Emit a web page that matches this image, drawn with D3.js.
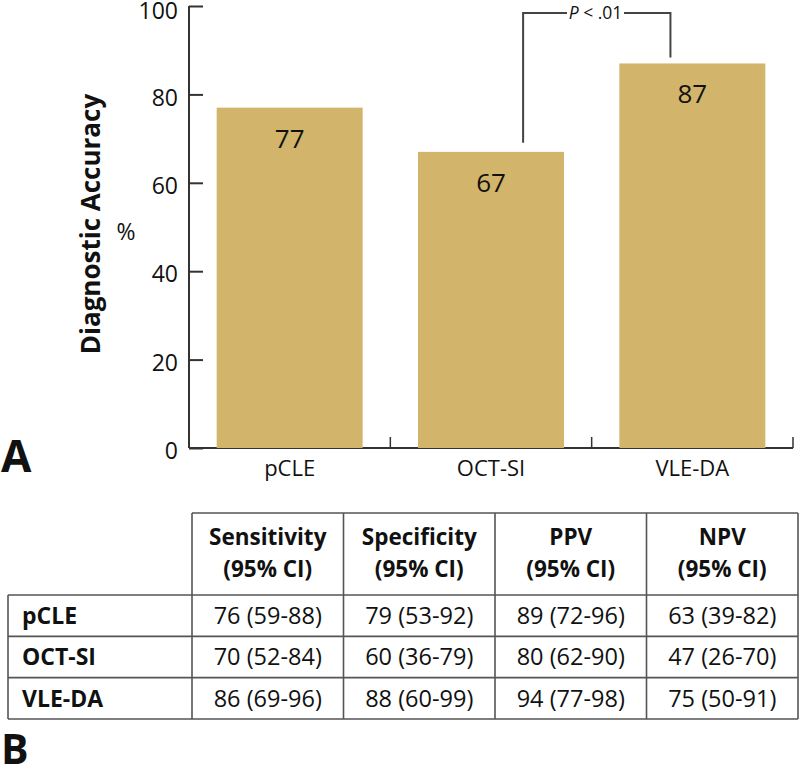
<!DOCTYPE html>
<html>
<head>
<meta charset="utf-8">
<script src="https://cdn.jsdelivr.net/npm/d3@7/dist/d3.min.js"></script>
<style>
  html, body { margin: 0; padding: 0; background: #fff; }
  svg { display: block; font-family: "Open Sans", "Noto Sans", sans-serif; }
</style>
</head>
<body>
<svg id="chart" width="800" height="770"></svg>
<script>
// ---- Data ----
const categories = ["pCLE", "OCT-SI", "VLE-DA"];
const accuracy = [77, 67, 87];
const yTicks = [0, 20, 40, 60, 80, 100];
const pLabel = ["P", " < .01"];
const comparePair = ["OCT-SI", "VLE-DA"];

const metricNames = ["Sensitivity", "Specificity", "PPV", "NPV"];
const metricSub = "(95% CI)";
const sensitivity = ["76 (59-88)", "70 (52-84)", "86 (69-96)"];
const specificity = ["79 (53-92)", "60 (36-79)", "88 (60-99)"];
const ppv = ["89 (72-96)", "80 (62-90)", "94 (77-98)"];
const npv = ["63 (39-82)", "47 (26-70)", "75 (50-91)"];
const tableValues = [sensitivity, specificity, ppv, npv];

// ---- Setup ----
const svg = d3.select("#chart");
const axisColor = "#333";
const barColor = "#d3b46b";
const textColor = "#111";

const x = d3.scaleBand().domain(categories).range([189, 793])
  .paddingInner(0.275).paddingOuter(0.1375);
const y = d3.scaleLinear().domain([0, 100]).range([448, 6]);

const gAxisLayer = svg.append("g");
const gBarLayer = svg.append("g");
const gLabelLayer = svg.append("g");

// x axis baseline & ticks (ticks at band boundaries, pointing up)
const boundaries = categories.map(c => x(c) + x.bandwidth() + x.step() * x.paddingInner() / 2);
gAxisLayer.append("line")
  .attr("x1", 189).attr("x2", boundaries[boundaries.length - 1])
  .attr("y1", y(0)).attr("y2", y(0))
  .attr("stroke", axisColor).attr("stroke-width", 2);
gAxisLayer.selectAll("line.tk").data(boundaries).join("line").attr("class", "tk")
  .attr("x1", d => d).attr("x2", d => d)
  .attr("y1", y(0)).attr("y2", y(0) - 11)
  .attr("stroke", axisColor).attr("stroke-width", 1.5);

// y axis
const yAxis = d3.axisRight(y).tickValues(yTicks).tickSize(14).tickFormat("");
const gy = gAxisLayer.append("g").attr("transform", "translate(189,0)").call(yAxis);
gy.select(".domain").attr("d", `M0,${y(100)}V${y(0)}`).attr("stroke", axisColor).attr("stroke-width", 2);
gy.selectAll(".tick line").attr("stroke", axisColor).attr("stroke-width", 2);

gAxisLayer.append("g").selectAll("text").data(yTicks).join("text")
  .attr("x", 178)
  .attr("y", d => Math.max(y(d) + 3, 11))
  .attr("dy", "0.36em")
  .attr("text-anchor", "end")
  .attr("font-size", 23)
  .attr("fill", textColor)
  .text(d => d);

// bars
gBarLayer.selectAll("rect").data(categories).join("rect")
  .attr("x", d => x(d))
  .attr("y", (d, i) => y(accuracy[i]))
  .attr("width", x.bandwidth())
  .attr("height", (d, i) => y(0) - y(accuracy[i]))
  .attr("fill", barColor);

// value labels
gLabelLayer.selectAll("text.val").data(categories).join("text").attr("class", "val")
  .attr("x", d => x(d) + x.bandwidth() / 2)
  .attr("y", (d, i) => y(accuracy[i]) + 40)
  .attr("text-anchor", "middle")
  .attr("font-size", 26)
  .attr("fill", textColor)
  .text((d, i) => accuracy[i]);

// category labels
gLabelLayer.selectAll("text.cat").data(categories).join("text").attr("class", "cat")
  .attr("x", d => x(d) + x.bandwidth() / 2)
  .attr("y", 476)
  .attr("text-anchor", "middle")
  .attr("font-size", 22)
  .attr("fill", textColor)
  .text(d => d);

// axis titles
svg.append("text")
  .attr("transform", "translate(100,224) rotate(-90)")
  .attr("text-anchor", "middle")
  .attr("font-size", 26)
  .attr("font-weight", "bold")
  .attr("fill", textColor)
  .text("Diagnostic Accuracy");
svg.append("text")
  .attr("x", 126).attr("y", 240)
  .attr("text-anchor", "middle")
  .attr("font-size", 23)
  .attr("fill", textColor)
  .text("%");

// significance bracket
const iA = categories.indexOf(comparePair[0]);
const iB = categories.indexOf(comparePair[1]);
const bxL = x(comparePair[0]) + x.bandwidth() * 0.72;
const bxR = x(comparePair[1]) + x.bandwidth() * 0.35;
const bTop = 13;
const br = svg.append("g").attr("stroke", "#444").attr("stroke-width", 2).attr("fill", "none");
br.append("path").attr("d", `M${bxL},${y(accuracy[iA]) - 9}V${bTop}H567`);
br.append("path").attr("d", `M624,${bTop}H${bxR}V${y(accuracy[iB]) - 6}`);
const pt = svg.append("text").attr("x", 595.5).attr("y", bTop + 6)
  .attr("text-anchor", "middle").attr("font-size", 17.5).attr("fill", textColor);
pt.append("tspan").attr("font-style", "italic").text(pLabel[0]);
pt.append("tspan").text(pLabel[1]);

// panel letters
svg.append("text").attr("x", 1).attr("y", 472).attr("font-size", 44)
  .attr("font-weight", "bold").attr("fill", textColor).text("A");
svg.append("text").attr("x", 1).attr("y", 764).attr("font-size", 41)
  .attr("font-weight", "bold").attr("fill", textColor).text("B");

// ---- Table ----
const tLeft = 8, tLabelRight = 192, tRight = 798;
const tTop = 513, tHeadBottom = 595, tBottom = 719;
const colX = d3.scaleBand().domain(metricNames).range([tLabelRight, tRight]);
const rowY = d3.scaleBand().domain(categories).range([tHeadBottom, tBottom]);
const lineColor = "#555";
const tg = svg.append("g").attr("stroke", lineColor).attr("stroke-width", 1.6);
tg.append("line").attr("x1", tLabelRight).attr("x2", tRight).attr("y1", tTop).attr("y2", tTop);
[tHeadBottom, ...categories.map(c => rowY(c) + rowY.bandwidth())].forEach(yy => {
  tg.append("line").attr("x1", tLeft).attr("x2", tRight).attr("y1", yy).attr("y2", yy);
});
tg.append("line").attr("x1", tLeft).attr("x2", tLeft).attr("y1", tHeadBottom).attr("y2", tBottom);
[...metricNames.map(m => colX(m)), tRight].forEach(xx => {
  tg.append("line").attr("x1", xx).attr("x2", xx).attr("y1", tTop).attr("y2", tBottom);
});

// header text
const hg = svg.append("g").attr("font-weight", "bold").attr("font-size", 22.5)
  .attr("fill", textColor).attr("text-anchor", "middle");
hg.selectAll("text.h1").data(metricNames).join("text").attr("class", "h1")
  .attr("x", d => colX(d) + colX.bandwidth() / 2).attr("y", 545).text(d => d);
hg.selectAll("text.h2").data(metricNames).join("text").attr("class", "h2")
  .attr("x", d => colX(d) + colX.bandwidth() / 2).attr("y", 577).text(metricSub);

// row labels
svg.append("g").selectAll("text").data(categories).join("text")
  .attr("x", 22).attr("y", d => rowY(d) + rowY.bandwidth() / 2)
  .attr("dy", "0.36em")
  .attr("font-weight", "bold").attr("font-size", 23).attr("fill", textColor)
  .text(d => d);

// cells
metricNames.forEach((m, j) => {
  svg.append("g").selectAll("text").data(categories).join("text")
    .attr("x", colX(m) + colX.bandwidth() / 2)
    .attr("y", d => rowY(d) + rowY.bandwidth() / 2)
    .attr("dy", "0.36em")
    .attr("text-anchor", "middle")
    .attr("font-size", 23.5).attr("fill", textColor)
    .text((d, i) => tableValues[j][i]);
});
</script>
</body>
</html>
